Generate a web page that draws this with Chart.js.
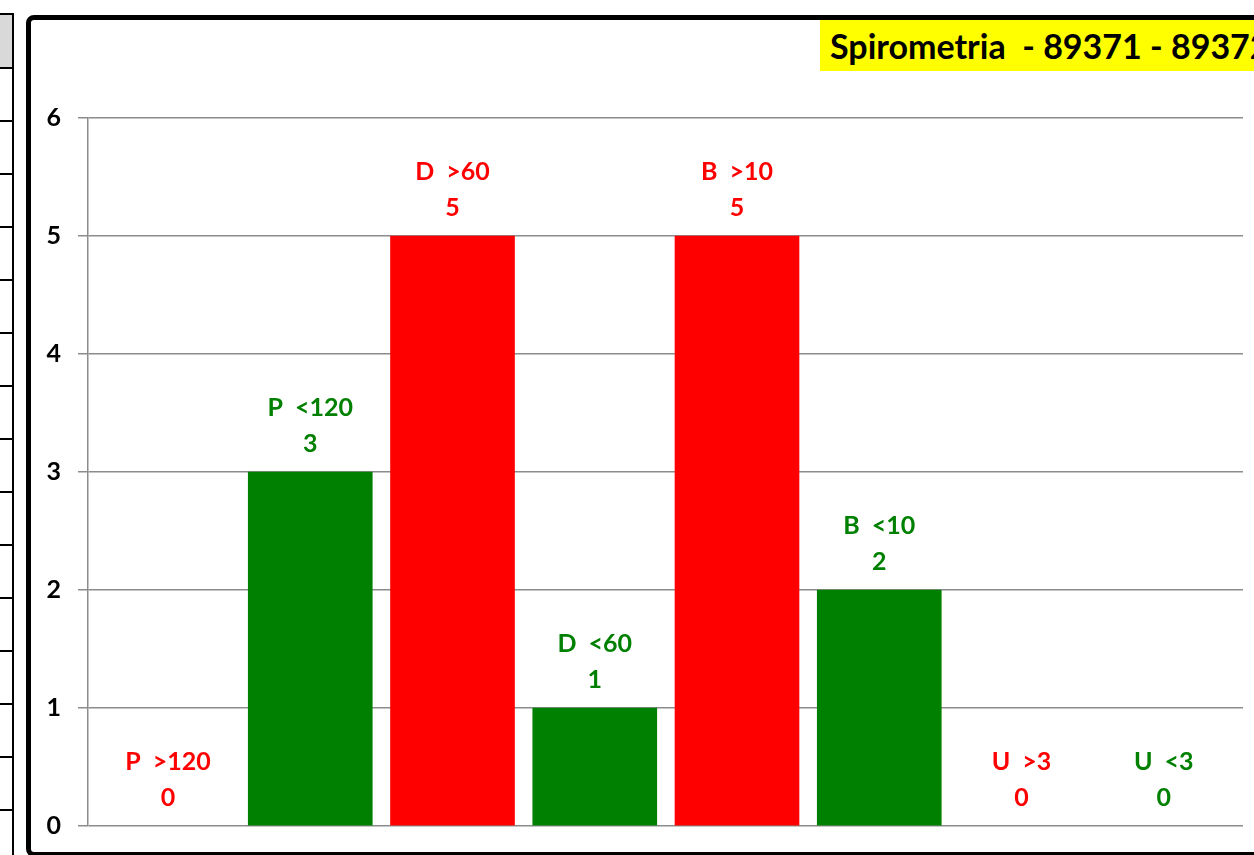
<!DOCTYPE html>
<html>
<head>
<meta charset="utf-8">
<script src="https://cdn.jsdelivr.net/npm/chart.js@4.4.1/dist/chart.umd.min.js"></script>
<style>
  html, body { margin: 0; padding: 0; background: #fff; overflow: hidden; }
  #page { position: relative; width: 1254px; height: 855px; overflow: hidden; }
  #sheet { position: absolute; left: 0; top: 13px; width: 12px; height: 900px;
           border-right: 2px solid #000; border-top: 2px solid #000; }
  #sheet .hdr { position: absolute; left: 0; top: 0; width: 12px; height: 52px; background: #d9d9d9; }
  #sheet .row { position: absolute; left: 0; width: 12px; height: 0; border-top: 2px solid #000; }
  #frame { position: absolute; left: 26px; top: 15px; width: 1300px; height: 832px;
           border: 5px solid #000; border-radius: 8px; }
  #title { position: absolute; left: 820px; top: 20px; width: 500px; height: 51px;
           background: #ffff00; font: bold 34px Lato, sans-serif; color: #000;
           line-height: 51px; padding-left: 10px; white-space: pre; box-sizing: border-box; }
  canvas { position: absolute; left: 0; top: 0; }
</style>
</head>
<body>
<div id="page">
  <div id="sheet"><div class="hdr"></div></div>
  <div id="frame"></div>
  <div id="title">Spirometria  - 89371 - 89372</div>
  <canvas id="barChart" width="1254" height="855"></canvas>
</div>
<script>
// chart data
var categories = ['P  >120', 'P  <120', 'D  >60', 'D  <60', 'B  >10', 'B  <10', 'U  >3', 'U  <3'];
var counts = [0, 3, 5, 1, 5, 2, 0, 0];
var barColors = ['#ff0000', '#008000', '#ff0000', '#008000', '#ff0000', '#008000', '#ff0000', '#008000'];
var yTicks = [0, 1, 2, 3, 4, 5, 6];

// row lines of the sheet on the left
(function () {
  var sheet = document.getElementById('sheet');
  for (var i = 0; i < 15; i++) {
    var r = document.createElement('div');
    r.className = 'row';
    r.style.top = (52 + i * 53) + 'px';
    sheet.appendChild(r);
  }
})();

// labels above each bar: name on first line, value on second
var barLabels = {
  id: 'barLabels',
  afterDatasetsDraw: function (chart) {
    var ctx = chart.ctx;
    var meta = chart.getDatasetMeta(0);
    ctx.save();
    ctx.font = 'bold 25px Lato, sans-serif';
    ctx.textAlign = 'center';
    ctx.textBaseline = 'middle';
    meta.data.forEach(function (bar, i) {
      ctx.fillStyle = barColors[i];
      ctx.fillText(categories[i], bar.x, bar.y - 64);
      ctx.fillText(String(counts[i]), bar.x, bar.y - 28);
    });
    ctx.restore();
  }
};

var livechart;
function initChart()
{
  var options = {
    type: 'bar',
    data: {
      labels: categories,
      datasets: [
        {
          label: 'Spirometria',
          data: counts.map(function (v, i) { return { x: i, y: v }; }),
          // zero bars get no fill so no hairline shows on the axis
          backgroundColor: barColors.map(function (c, i) { return counts[i] > 0 ? c : 'rgba(0,0,0,0)'; }),
          borderWidth: 0,
          barThickness: 124
        }
      ]
    },
    options: {
      responsive: false,
      animation: false,
      layout: {
        padding: { left: 0, right: 11, top: 118, bottom: 29 }
      },
      plugins: {
        legend: { display: false },
        tooltip: { enabled: false },
        title: { display: false }
      },
      scales: {
        x: {
          type: 'linear',
          display: false,
          min: -0.5624,
          max: 7.557,
          offset: false
        },
        y: {
          min: 0,
          max: 6,
          afterFit: function (s) {
            s.width = 88;
            s.paddingTop = 0;
            s.paddingBottom = 0;
          },
          afterBuildTicks: function (s) {
            s.ticks = yTicks.map(function (v) { return { value: v }; });
          },
          border: { display: true, color: '#8c8c8c', width: 1.5 },
          grid: {
            color: '#8c8c8c',
            lineWidth: 1.5,
            tickLength: 10,
            drawTicks: true
          },
          ticks: {
            color: '#000',
            padding: 17,
            font: { family: 'Lato, sans-serif', size: 25, weight: 'bold', lineHeight: 1 }
          }
        }
      }
    },
    plugins: [barLabels]
  };

  var ctx = document.getElementById('barChart').getContext('2d');
  livechart = new Chart(ctx, options);
}
initChart();
</script>
</body>
</html>
